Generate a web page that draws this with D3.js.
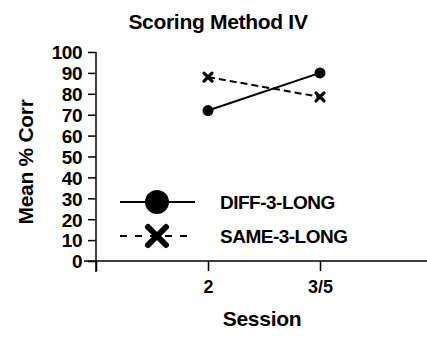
<!DOCTYPE html>
<html>
<head>
<meta charset="utf-8">
<script src="https://cdn.jsdelivr.net/npm/d3@7/dist/d3.min.js"></script>
<style>
  html, body { margin: 0; padding: 0; background: #fff; }
  svg text { font-family: "Liberation Sans", Arial, sans-serif; font-weight: bold; fill: #000; }
</style>
</head>
<body>
<svg id="chart" width="427" height="338"></svg>
<script>
// Sessions on the x axis (positions 1 and 2 of a 0..3 scale)
const sessions = ["2", "3/5"];
const sessionPos = [1, 2];

// Mean percent correct per group
const diffValues = [72, 90];
const sameValues = [88, 78.5];

const seriesNames = ["DIFF-3-LONG", "SAME-3-LONG"];
const yTicks = [0, 10, 20, 30, 40, 50, 60, 70, 80, 90, 100];

const svg = d3.select("#chart");

const x = d3.scaleLinear().domain([0, 3]).range([96, 432]);
const y = d3.scaleLinear().domain([0, 100]).range([261, 52]);

// Title
svg.append("text")
  .attr("x", 218).attr("y", 29)
  .attr("text-anchor", "middle")
  .style("font-size", "21px")
  .style("letter-spacing", "-0.3px")
  .text("Scoring Method IV");

// Y axis
const yAxis = d3.axisLeft(y).tickValues(yTicks).tickSize(8).tickPadding(6).tickFormat(d3.format("d"));
const gy = svg.append("g").attr("transform", "translate(96,0)").call(yAxis);
gy.select(".domain").remove();
gy.append("line").attr("x1", 0).attr("x2", 0).attr("y1", y(100)).attr("y2", 272)
  .attr("stroke", "#000").attr("stroke-width", 1.5);
gy.selectAll(".tick line").attr("stroke-width", 1.5);
gy.selectAll(".tick text")
  .style("font-size", "19px")
  .style("font-family", "'Liberation Sans', Arial, sans-serif")
  .style("font-weight", "bold")
  .style("letter-spacing", "-0.5px")
  .attr("dy", "0.36em");

// X axis
const xAxis = d3.axisBottom(x).tickValues([0].concat(sessionPos))
  .tickSize(10).tickPadding(9)
  .tickFormat((d) => d === 0 ? "" : sessions[sessionPos.indexOf(d)]);
const gx = svg.append("g").attr("transform", `translate(0,${y(0)})`).call(xAxis);
gx.select(".domain").remove();
gx.append("line").attr("x1", 84).attr("x2", 427).attr("y1", 0).attr("y2", 0)
  .attr("stroke", "#000").attr("stroke-width", 1.5);
gx.selectAll(".tick line").attr("stroke-width", 1.5);
gx.selectAll(".tick text")
  .style("font-size", "18px")
  .style("font-family", "'Liberation Sans', Arial, sans-serif")
  .style("font-weight", "bold");

// Axis titles
svg.append("text")
  .attr("x", 262).attr("y", 326)
  .attr("text-anchor", "middle")
  .style("font-size", "21px")
  .style("letter-spacing", "-0.3px")
  .text("Session");

svg.append("text")
  .attr("transform", "translate(33,162) rotate(-90)")
  .attr("text-anchor", "middle")
  .style("font-size", "21px")
  .style("letter-spacing", "-0.3px")
  .text("Mean % Corr");

// Lines
const line = d3.line().x((d, i) => x(sessionPos[i])).y((d) => y(d));

svg.append("path").datum(diffValues)
  .attr("d", line).attr("fill", "none")
  .attr("stroke", "#000").attr("stroke-width", 2);

svg.append("path").datum(sameValues)
  .attr("d", line).attr("fill", "none")
  .attr("stroke", "#000").attr("stroke-width", 2)
  .attr("stroke-dasharray", "7,4");

// Markers
function cross(g, cx, cy, r, w) {
  g.append("path")
    .attr("d", `M${cx - r},${cy - r}L${cx + r},${cy + r}M${cx - r},${cy + r}L${cx + r},${cy - r}`)
    .attr("stroke", "#000").attr("stroke-width", w).attr("stroke-linecap", "round").attr("fill", "none");
}

svg.selectAll("circle.diff").data(diffValues).join("circle")
  .attr("class", "diff")
  .attr("cx", (d, i) => x(sessionPos[i]))
  .attr("cy", (d) => y(d))
  .attr("r", 5.5).attr("fill", "#000");

sameValues.forEach((d, i) => cross(svg, x(sessionPos[i]), y(d), 4, 3.2));

// Legend
const leg = svg.append("g");
const legY = [202, 236];
leg.append("line").attr("x1", 120).attr("x2", 195).attr("y1", legY[0]).attr("y2", legY[0])
  .attr("stroke", "#000").attr("stroke-width", 2);
leg.append("circle").attr("cx", 157).attr("cy", legY[0]).attr("r", 12).attr("fill", "#000");
leg.append("line").attr("x1", 120).attr("x2", 195).attr("y1", legY[1]).attr("y2", legY[1])
  .attr("stroke", "#000").attr("stroke-width", 2).attr("stroke-dasharray", "7,8");
cross(leg, 157, legY[1], 9, 6);

seriesNames.forEach((name, i) => {
  leg.append("text")
    .attr("x", 220).attr("y", legY[i])
    .attr("dy", "0.36em")
    .style("font-size", "19px")
    .style("letter-spacing", "-0.5px")
    .text(name);
});
</script>
</body>
</html>
